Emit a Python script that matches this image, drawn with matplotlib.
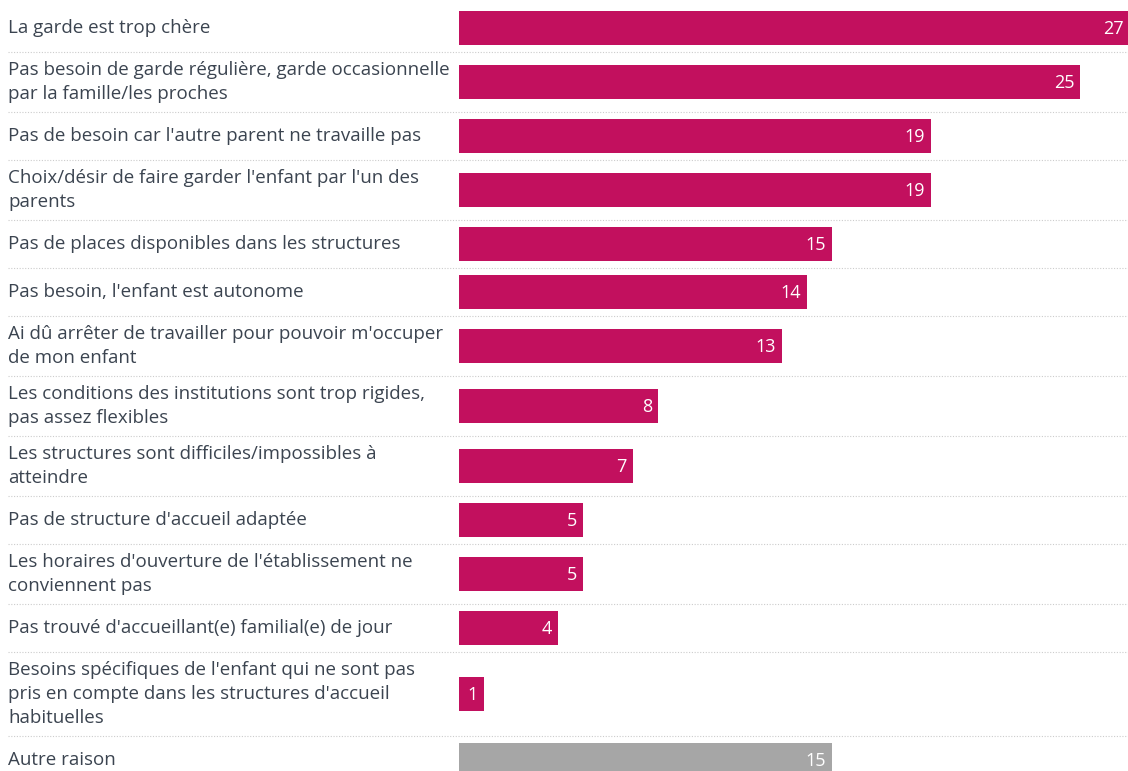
import matplotlib.pyplot as plt

# Data
labels = [
    "La garde est trop chère",
    "Pas besoin de garde régulière, garde occasionnelle\npar la famille/les proches",
    "Pas de besoin car l'autre parent ne travaille pas",
    "Choix/désir de faire garder l'enfant par l'un des\nparents",
    "Pas de places disponibles dans les structures",
    "Pas besoin, l'enfant est autonome",
    "Ai dû arrêter de travailler pour pouvoir m'occuper\nde mon enfant",
    "Les conditions des institutions sont trop rigides,\npas assez flexibles",
    "Les structures sont difficiles/impossibles à\natteindre",
    "Pas de structure d'accueil adaptée",
    "Les horaires d'ouverture de l'établissement ne\nconviennent pas",
    "Pas trouvé d'accueillant(e) familial(e) de jour",
    "Besoins spécifiques de l'enfant qui ne sont pas\npris en compte dans les structures d'accueil\nhabituelles",
    "Autre raison",
]
values = [27, 25, 19, 19, 15, 14, 13, 8, 7, 5, 5, 4, 1, 15]
colors = ["#c2105e"] * 13 + ["#a6a6a6"]

W, H = 1128, 771
BAR_X0 = 459
PX_PER_UNIT = 24.85
BAR_H = 34
LINE_H = 24

plt.rcParams['font.family'] = ['Open Sans', 'DejaVu Sans']

fig = plt.figure(figsize=(W / 100, H / 100), dpi=100)
ax = fig.add_axes([0, 0, 1, 1])
ax.set_xlim(0, W)
ax.set_ylim(H, 0)
ax.axis("off")

# row layout: height depends on number of label lines
y = 4
for lab, val, col in zip(labels, values, colors):
    n = lab.count("\n") + 1
    rh = max(BAR_H + 14, n * LINE_H + 12)
    yc = y + rh / 2
    w = val * PX_PER_UNIT
    ax.barh(yc, w, left=BAR_X0, height=BAR_H, color=col)
    ax.text(BAR_X0 + w - 6, yc + 1, str(val), ha="right", va="center",
            color="white", fontsize=13)
    ax.text(8, yc, lab, ha="left", va="center", color="#3b4450",
            fontsize=13.5, linespacing=1.45)
    y += rh
    if y < H:
        ax.plot([8, W], [y, y], color="#cccccc", lw=0.8, ls=(0, (1, 1.5)))

fig.savefig("out.png", dpi=100)
